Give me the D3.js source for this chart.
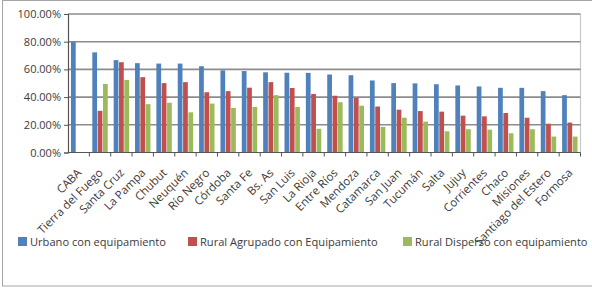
<!DOCTYPE html>
<html>
<head>
<meta charset="utf-8">
<script src="https://cdn.jsdelivr.net/npm/d3@7"></script>
<style>
  body { margin: 0; background: #fff; }
  svg text { font-family: "Open Sans", sans-serif; fill: #3a3a3a; }
</style>
</head>
<body>
<svg id="chart" width="592" height="288"></svg>
<script>
// Provinces (x categories)
const provinces = ["CABA", "Tierra del Fuego", "Santa Cruz", "La Pampa", "Chubut", "Neuquén",
    "Río Negro", "Córdoba", "Santa Fe", "Bs. As", "San Luis", "La Rioja", "Entre Ríos",
    "Mendoza", "Catamarca", "San Juan", "Tucumán", "Salta", "Jujuy", "Corrientes", "Chaco",
    "Misiones", "Santiago del Estero", "Formosa"];

// series values, in %
const urbano = [80.0, 72.3, 66.7, 64.5, 64.2, 64.2, 62.3, 59.3, 58.8, 57.9, 57.6, 57.5,
    56.3, 55.8, 52.0, 50.1, 49.9, 49.3, 48.4, 47.7, 46.7, 46.7, 44.3, 41.4];
const ruralAgrupado = [null, 30.1, 65.2, 54.4, 50.1, 50.8, 43.5, 44.3, 46.8, 50.8, 46.6, 42.3,
    41.0, 39.5, 33.2, 30.9, 29.9, 29.5, 26.6, 26.1, 28.5, 25.1, 20.8, 21.6];
const ruralDisperso = [null, 49.5, 52.4, 34.9, 35.9, 29.0, 35.3, 32.2, 32.9, 41.4, 32.9, 17.1,
    36.3, 33.8, 18.5, 25.1, 22.3, 15.3, 16.8, 16.5, 13.9, 16.8, 11.5, 11.5];

const seriesNames = ["Urbano con equipamiento", "Rural Agrupado con Equipamiento", "Rural Disperso con equipamiento"];
const seriesColors = ["#4f81bd", "#c0504d", "#9bbb59"];
const yTicks = [0, 20, 40, 60, 80, 100];

const svg = d3.select("#chart");
const plot = {left: 68, right: 580.5, top: 14, bottom: 152.5};

// outer frame of the chart
svg.append("rect")
    .attr("x", 2.5).attr("y", 0.5)
    .attr("width", 620).attr("height", 285.5)
    .attr("fill", "#fff").attr("stroke", "#a6a6a6");

const xScale = d3.scaleBand().domain(provinces).range([plot.left, plot.right]);
const xInner = d3.scaleBand().domain(seriesNames).range([0, xScale.bandwidth()]).paddingOuter(0.5);
const yScale = d3.scaleLinear().domain([0, 100]).range([plot.bottom, plot.top]);

// plot area right border
svg.append("line")
    .attr("x1", plot.right).attr("x2", plot.right)
    .attr("y1", plot.top).attr("y2", plot.bottom)
    .attr("stroke", "#c8c8c8").attr("stroke-width", 1.2);

// gridlines
svg.append("g")
    .selectAll("line")
    .data(yTicks.slice(1))
    .join("line")
    .attr("x1", plot.left).attr("x2", plot.right)
    .attr("y1", d => yScale(d)).attr("y2", d => yScale(d))
    .attr("stroke", "#8c8c8c").attr("stroke-width", 1.6);

// bars
const table = provinces.map((p, i) => ({
    province: p,
    values: [urbano[i], ruralAgrupado[i], ruralDisperso[i]]
}));

svg.append("g")
    .selectAll("g")
    .data(table)
    .join("g")
    .attr("transform", d => `translate(${xScale(d.province)},0)`)
    .selectAll("rect")
    .data(d => d.values.map((v, k) => ({series: seriesNames[k], value: v, k: k})).filter(e => e.value != null))
    .join("rect")
    .attr("x", e => xInner(e.series) + 0.3)
    .attr("width", xInner.bandwidth() - 0.6)
    .attr("y", e => yScale(e.value))
    .attr("height", e => plot.bottom - yScale(e.value))
    .attr("fill", e => seriesColors[e.k]);

// y axis
const yAxis = d3.axisLeft(yScale)
    .tickValues(yTicks)
    .tickSize(4)
    .tickPadding(3)
    .tickFormat(d => d.toFixed(2) + "%");

svg.append("g")
    .attr("transform", `translate(${plot.left},0)`)
    .call(yAxis)
    .call(g => g.select(".domain").attr("stroke", "#555").attr("stroke-width", 1.2))
    .call(g => g.selectAll(".tick line").attr("stroke", "#555"))
    .call(g => g.selectAll(".tick text")
        .attr("font-family", "Open Sans, sans-serif")
        .attr("font-size", 11).attr("fill", "#3a3a3a"));

// x axis: ticks at category boundaries
const xG = svg.append("g");
xG.append("line")
    .attr("x1", plot.left).attr("x2", plot.right)
    .attr("y1", plot.bottom).attr("y2", plot.bottom)
    .attr("stroke", "#555").attr("stroke-width", 1.2);
xG.selectAll(".tickmark")
    .data(provinces)
    .join("line")
    .attr("class", "tickmark")
    .attr("x1", d => xScale(d) + xScale.bandwidth())
    .attr("x2", d => xScale(d) + xScale.bandwidth())
    .attr("y1", plot.bottom).attr("y2", plot.bottom + 4)
    .attr("stroke", "#555");

xG.selectAll(".xlabel")
    .data(provinces)
    .join("text")
    .attr("class", "xlabel")
    .attr("transform", d => `translate(${xScale(d) + xScale.bandwidth() / 2 + 3.5},${plot.bottom + 21}) rotate(-45)`)
    .attr("text-anchor", "end")
    .attr("font-size", 11.5)
    .text(d => d);

// legend
const legendX = [18, 188, 403];
const legend = svg.append("g")
    .selectAll("g")
    .data(seriesNames)
    .join("g")
    .attr("transform", (d, i) => `translate(${legendX[i]},237)`);
legend.append("rect")
    .attr("width", 9).attr("height", 9)
    .attr("fill", (d, i) => seriesColors[i]);
legend.append("text")
    .attr("x", 12).attr("y", 9)
    .attr("font-size", 11.1)
    .text(d => d);
</script>
</body>
</html>
